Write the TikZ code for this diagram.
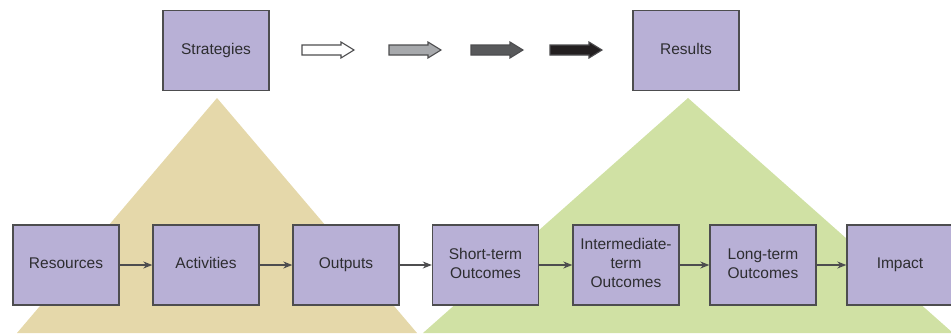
\documentclass[tikz,border=0pt]{standalone}
\usepackage{fontspec}
\setmainfont{Liberation Sans}
\usetikzlibrary{arrows.meta}
\definecolor{boxfill}{RGB}{184,176,214}
\definecolor{boxline}{RGB}{77,77,79}
\definecolor{tanfill}{RGB}{229,216,170}
\definecolor{lgreen}{RGB}{208,225,164}
\definecolor{txt}{RGB}{45,45,48}
\definecolor{arrA}{RGB}{255,255,255}
\definecolor{arrB}{RGB}{167,169,172}
\definecolor{arrC}{RGB}{88,89,91}
\definecolor{arrD}{RGB}{35,31,32}
\newcommand{\fatarrow}[2]{%
  \draw[fatarr, fill=#2] (#1,45) -- ++(39,0) -- ++(0,-3) -- ++(13,8) -- ++(-13,8) -- ++(0,-3) -- (#1,55) -- cycle;}
\begin{document}
\begin{tikzpicture}[x=1pt,y=-1pt,
  box/.style={draw=boxline, line width=1.4pt, fill=boxfill, minimum width=106pt,
    minimum height=80pt, inner sep=0pt, align=center, text=txt,
    font=\fontsize{15.5}{19}\selectfont},
  link/.style={draw=boxline, line width=1.2pt, -{Stealth[length=9pt,width=7pt]}},
  fatarr/.style={draw=boxline, line width=1.1pt, line join=miter}]
\useasboundingbox (0,0) rectangle (951,333);
\fill[tanfill] (217,98) -- (17,333) -- (417,333) -- cycle;
\fill[lgreen] (688,98) -- (423,333) -- (953,333) -- cycle;
\node[box] (str) at (216,50.5) {\strut Strategies};
\node[box] (res) at (686,50.5) {\strut Results};
\fatarrow{302}{arrA}
\fatarrow{389}{arrB}
\fatarrow{471}{arrC}
\fatarrow{550}{arrD}
\node[box] (r1) at (66,265) {\strut Resources};
\node[box] (r2) at (206,265) {\strut Activities};
\node[box] (r3) at (346,265) {\strut Outputs};
\node[box] (r4) at (485.5,265) {\strut Short-term\\\strut Outcomes};
\node[box] (r5) at (626,265) {\strut Intermediate-\\\strut term\\\strut Outcomes};
\node[box] (r6) at (763,265) {\strut Long-term\\\strut Outcomes};
\node[box] (r7) at (900,265) {\strut Impact};
\foreach \a/\b in {r1/r2,r2/r3,r3/r4,r4/r5,r5/r6,r6/r7}
  \draw[link] (\a.east) -- (\b.west);
\end{tikzpicture}
\end{document}
